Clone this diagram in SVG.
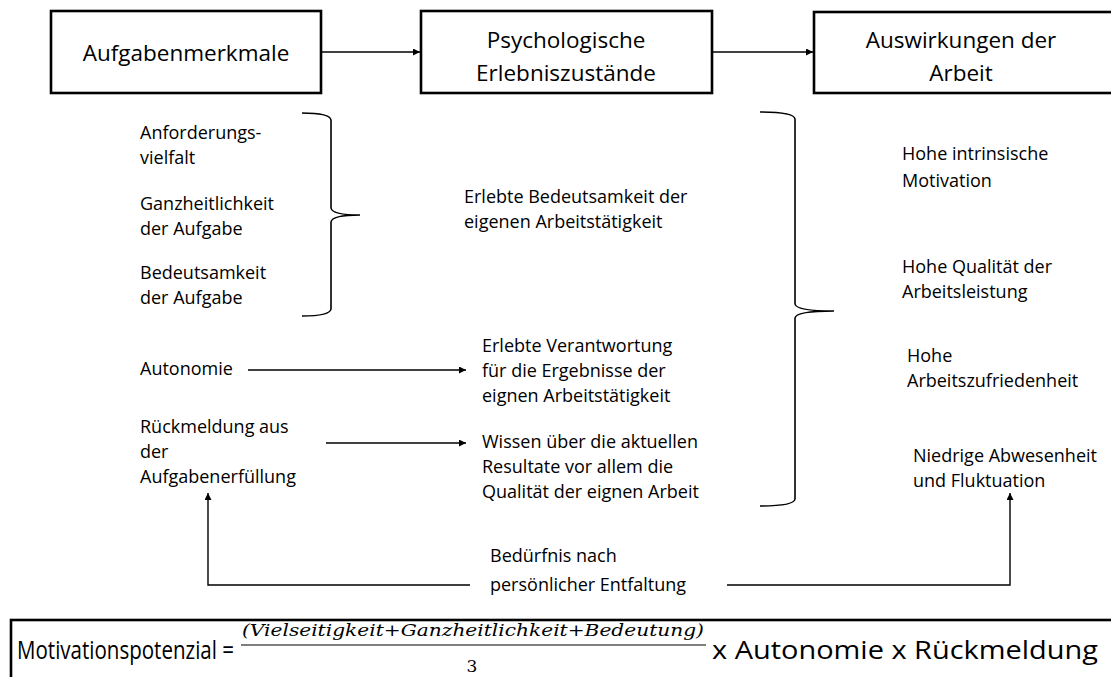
<svg xmlns="http://www.w3.org/2000/svg" width="1111" height="677" viewBox="0 0 1111 677">
<defs>
<style>
.box{fill:#fff;stroke:#000;stroke-width:2.6}
.ln{fill:none;stroke:#000;stroke-width:1.4}
.br{fill:none;stroke:#000;stroke-width:1.6}
.t{font-family:"Open Sans","Liberation Sans",sans-serif;font-size:18px;fill:#000}
.h{font-family:"Open Sans","Liberation Sans",sans-serif;font-size:22.5px;fill:#000;text-anchor:middle}
.f{font-family:"Open Sans","Liberation Sans",sans-serif;font-size:25px;fill:#000}
.m{font-family:"DejaVu Serif","Liberation Serif",serif;font-style:italic;font-size:17px;fill:#000}
</style>
<marker id="ah" viewBox="0 0 10 10" refX="10" refY="5" markerWidth="7" markerHeight="7" markerUnits="userSpaceOnUse" orient="auto">
<path d="M0,0 L10,5 L0,10 z" fill="#000"/>
</marker>
</defs>
<rect width="1111" height="677" fill="#fff"/>

<g id="n-aufgabenmerkmale">
<rect class="box" x="51" y="11" width="270" height="82"/>
<text class="h" x="186" y="61">Aufgabenmerkmale</text>
</g>
<g id="n-psychologische">
<rect class="box" x="421" y="11" width="291" height="82"/>
<text class="h" x="566" y="48">Psychologische</text>
<text class="h" x="566" y="81">Erlebniszustände</text>
</g>
<g id="n-auswirkungen">
<rect class="box" x="814" y="12" width="300" height="81"/>
<text class="h" x="961" y="48">Auswirkungen der</text>
<text class="h" x="961" y="81">Arbeit</text>
</g>

<g id="n-merkmale-liste">
<text class="t" x="140" y="139">Anforderungs-</text>
<text class="t" x="140" y="164">vielfalt</text>
<text class="t" x="140" y="210">Ganzheitlichkeit</text>
<text class="t" x="140" y="235">der Aufgabe</text>
<text class="t" x="140" y="279">Bedeutsamkeit</text>
<text class="t" x="140" y="304">der Aufgabe</text>
</g>
<g id="n-bedeutsamkeit">
<text class="t" x="464" y="203">Erlebte Bedeutsamkeit der</text>
<text class="t" x="464" y="228">eigenen Arbeitstätigkeit</text>
</g>
<g id="n-autonomie">
<text class="t" x="140" y="375">Autonomie</text>
</g>
<g id="n-verantwortung">
<text class="t" x="482" y="352">Erlebte Verantwortung</text>
<text class="t" x="482" y="377">für die Ergebnisse der</text>
<text class="t" x="482" y="402">eignen Arbeitstätigkeit</text>
</g>
<g id="n-rueckmeldung">
<text class="t" x="140" y="433">Rückmeldung aus</text>
<text class="t" x="140" y="458">der</text>
<text class="t" x="140" y="483">Aufgabenerfüllung</text>
</g>
<g id="n-wissen">
<text class="t" x="482" y="448">Wissen über die aktuellen</text>
<text class="t" x="482" y="473">Resultate vor allem die</text>
<text class="t" x="482" y="498">Qualität der eignen Arbeit</text>
</g>
<g id="n-auswirkungen-liste">
<text class="t" x="902" y="160">Hohe intrinsische</text>
<text class="t" x="902" y="187">Motivation</text>
<text class="t" x="902" y="273">Hohe Qualität der</text>
<text class="t" x="902" y="298">Arbeitsleistung</text>
<text class="t" x="907" y="362">Hohe</text>
<text class="t" x="907" y="387">Arbeitszufriedenheit</text>
<text class="t" x="913" y="462">Niedrige Abwesenheit</text>
<text class="t" x="913" y="487">und Fluktuation</text>
</g>
<g id="n-beduerfnis">
<text class="t" x="490" y="562">Bedürfnis nach</text>
<text class="t" x="490" y="591">persönlicher Entfaltung</text>
</g>

<g id="connectors">
<line class="ln" x1="321" y1="52" x2="420" y2="52" marker-end="url(#ah)"/>
<line class="ln" x1="712" y1="52" x2="813" y2="52" marker-end="url(#ah)"/>
<line class="ln" x1="248" y1="370" x2="466" y2="370" marker-end="url(#ah)"/>
<line class="ln" x1="326" y1="443" x2="466" y2="443" marker-end="url(#ah)"/>
<polyline class="ln" points="470,585 208,585 208,493" marker-end="url(#ah)"/>
<polyline class="ln" points="727,585 1010,585 1010,493" marker-end="url(#ah)"/>
<path class="br" d="M302,113 Q330,113 331,120 L331,208 Q332,215 360,215 Q332,215 331,222 L331,309 Q330,316 302,316"/>
<path class="br" d="M760,112 Q794,112 795,119 L795,304 Q796,311 834,311 Q796,311 795,318 L795,499 Q794,506 760,506"/>
</g>

<g id="n-formel">
<rect class="box" x="11" y="620" width="1110" height="70"/>
<text class="f" x="17" y="659" textLength="217" lengthAdjust="spacingAndGlyphs">Motivationspotenzial =</text>
<text class="m" x="242" y="636" textLength="462" lengthAdjust="spacingAndGlyphs">(Vielseitigkeit+Ganzheitlichkeit+Bedeutung)</text>
<line x1="241" y1="645" x2="706" y2="645" stroke="#000" stroke-width="1.2"/>
<text x="472" y="672" text-anchor="middle" font-family="DejaVu Serif, Liberation Serif, serif" font-size="17" fill="#000">3</text>
<text class="f" x="712" y="659" textLength="386" lengthAdjust="spacingAndGlyphs">x Autonomie x Rückmeldung</text>
</g>
</svg>
